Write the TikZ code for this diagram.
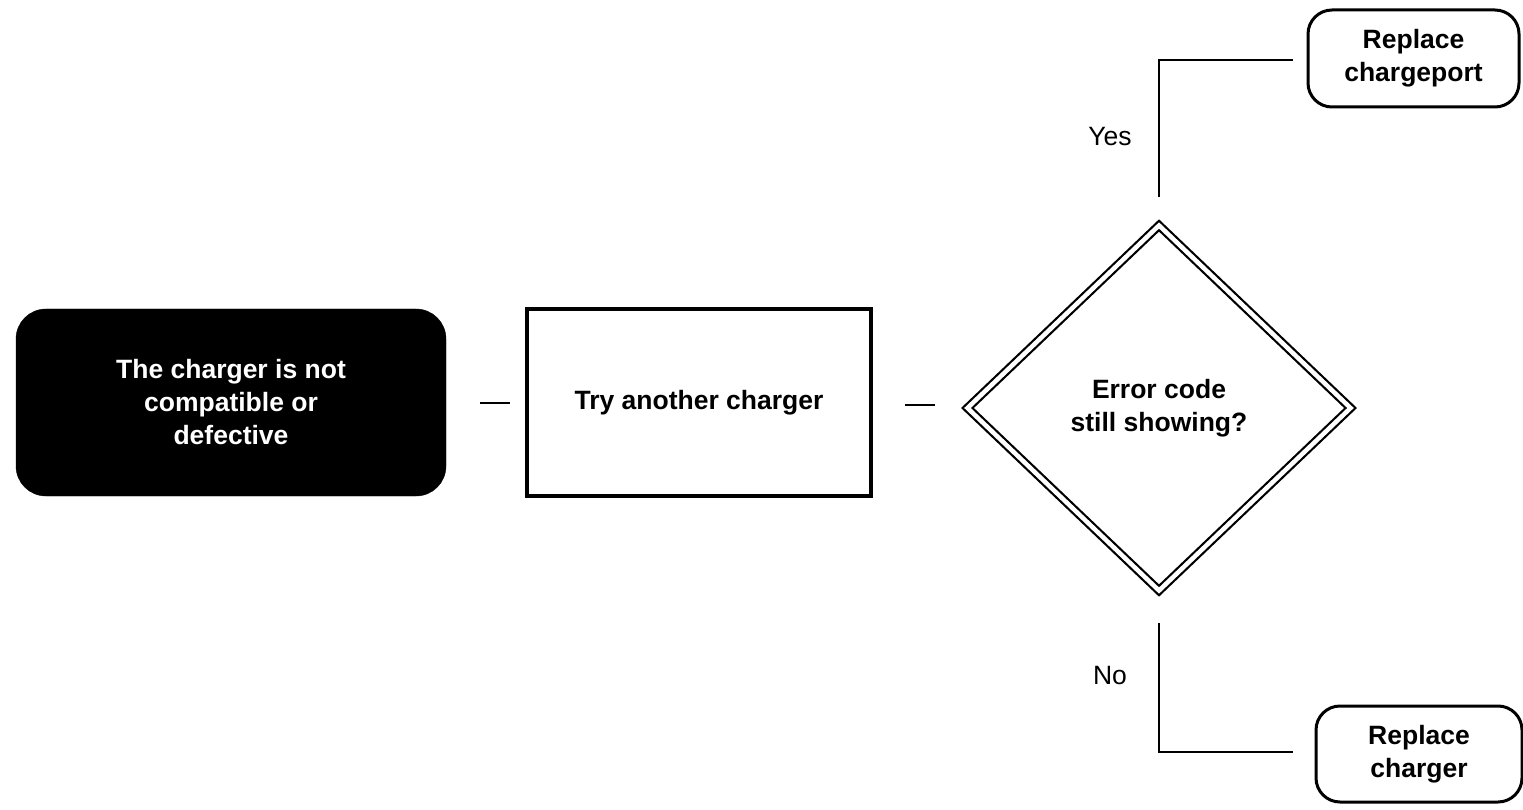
\documentclass[tikz,border=0pt]{standalone}
\usepackage{fontspec}
\setmainfont{Liberation Sans}
\usetikzlibrary{shapes.geometric}
\begin{document}
\begin{tikzpicture}[x=1pt,y=-1pt,
  txt/.style={font=\fontsize{26.5}{33}\selectfont\bfseries, align=center},
  startbox/.style={txt, fill=black, draw=black, text=white, rounded corners=30pt, minimum width=430pt, minimum height=187pt, inner sep=0pt},
  procbox/.style={txt, draw=black, line width=4pt, minimum width=344pt, minimum height=187pt, inner sep=0pt},
  endbox/.style={txt, draw=black, line width=3pt, rounded corners=24pt, inner sep=0pt},
  decision/.style={txt, diamond, draw=black, double, line width=2.2pt, double distance=4.5pt, minimum width=384pt, minimum height=366pt, inner sep=0pt},
  conn/.style={draw=black, line width=2pt},
  lbl/.style={font=\fontsize{26.5}{30}\selectfont}
]
\useasboundingbox (0,0) rectangle (1523,810);
\node[startbox] (start) at (231,402.5) {The charger is not\\compatible or\\defective};
\node[procbox] (try) at (699,402.5) {Try another charger};
\node[decision] (dec) at (1159,408) {Error code\\still showing?};
\node[endbox, minimum width=211pt, minimum height=97pt] (port) at (1413.5,58.5) {Replace\\chargeport};
\node[endbox, minimum width=206pt, minimum height=96pt] (chg) at (1419,754) {Replace\\charger};

\coordinate (a1) at (480,403);
\coordinate (a2) at (510,403);
\coordinate (b1) at (905,405);
\coordinate (b2) at (935,405);
\draw[conn] (a1) -- (a2);
\draw[conn] (b1) -- (b2);

\coordinate (y1) at (1159,197);
\coordinate (y2) at (1293,60);
\coordinate (n1) at (1159,623);
\coordinate (n2) at (1293,752);
\draw[conn] (y1) |- (y2);
\draw[conn] (n1) |- (n2);

\node[lbl] (yes) at (1110,137) {Yes};
\node[lbl] (no) at (1110,676) {No};
\end{tikzpicture}
\end{document}
